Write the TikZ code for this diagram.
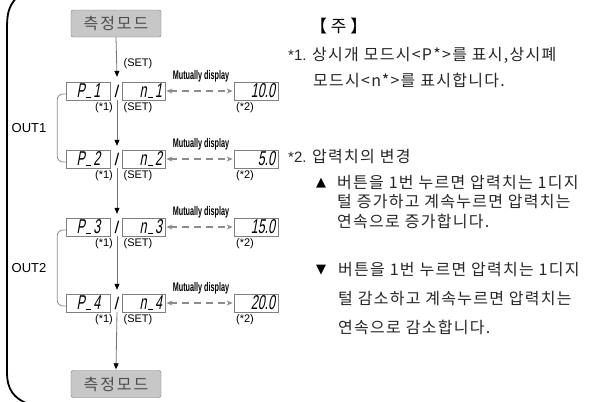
\documentclass[tikz,border=0pt]{standalone}
\usepackage{fontspec}
\setmainfont{Liberation Sans}
\newfontfamily\kr[LetterSpace=8]{Noto Sans CJK KR}
\newfontfamily\krplain{Noto Sans CJK KR}
\newfontfamily\krbox[LetterSpace=12]{Noto Sans CJK KR}
\newfontfamily\segf[FakeSlant=0.18,FakeStretch=0.62]{Liberation Sans}
\newfontfamily\condf[FakeStretch=0.58]{Liberation Sans}
\newfontfamily\symf{DejaVu Sans}
\newcommand\segbar{\kern1pt\rule{5pt}{1.3pt}\kern2.5pt}
\usetikzlibrary{arrows.meta,calc}
\begin{document}
\begin{tikzpicture}[x=1pt,y=-1pt,
  modebox/.style={draw=black!55, fill=black!22, rounded corners=2pt, minimum width=90pt, minimum height=27pt, inner sep=0pt, font=\fontsize{16}{16}\krbox\color{black!70}},
  segbox/.style={draw=black!50, fill=white, line width=0.7pt, minimum height=18pt, inner ysep=0pt, inner xsep=3pt, text width=38pt, font=\fontsize{20}{20}\segf},
  pbox/.style={segbox, align=center},
  nbox/.style={segbox, text width=37pt, align=right},
  vbox/.style={segbox, align=right},
  slashnode/.style={minimum height=18pt, inner sep=0pt, font=\fontsize{17}{17}\selectfont},
  lbl/.style={font=\fontsize{11}{11}\selectfont, inner sep=0pt},
  mdlbl/.style={font=\fontsize{12.5}{12.5}\condf\bfseries, inner sep=0pt},
  outlbl/.style={font=\fontsize{13}{13}\selectfont, inner sep=0pt},
  flow/.style={draw=black!55, line width=0.8pt, -{Triangle[width=5pt,length=6pt,color=black]}},
  mutual/.style={draw=black!45, line width=1.3pt, dash pattern=on 7pt off 5pt, {Stealth[length=6pt,width=5pt]}-{Stealth[length=6pt,width=5pt]}, shorten <=1pt, shorten >=1pt},
  brk/.style={draw=black!45, line width=0.8pt, rounded corners=6pt},
  note/.style={anchor=west, inner sep=0pt, font=\fontsize{16}{16}\kr\color{black!85}},
  notenum/.style={anchor=west, inner sep=0pt, font=\fontsize{15}{15}\selectfont\color{black!85}},
]
\useasboundingbox (0,0) rectangle (614,402);

% left frame
\draw[line width=1.8pt] (16,-2) .. controls (8,8) and (7,14) .. (7,30) -- (7,372) .. controls (7,390) and (14,398) .. (28,404);

\node[modebox] (top) at (116,23.5) {측정모드};
\node[modebox] (bot) at (116,384) {측정모드};
\node[lbl] (set0) at (138,64) {(SET)};

\foreach \i/\y/\v in {1/91/10.0, 2/159/5.0, 3/227/15.0, 4/303/20.0}{
  \node[pbox] (p\i) at (88.5,\y) {P\segbar\i};
  \node[slashnode] (s\i) at (117,\y) {/};
  \node[nbox] (n\i) at (143.5,\y) {n\segbar\i};
  \node[vbox] (v\i) at (256,\y) {\v};
  \draw[mutual] (n\i.east) -- (v\i.west);
  \node[mdlbl] (m\i) at (201,\y-15) {Mutually display};
  \node[lbl] (a\i) at (104,\y+17) {(*1)};
  \node[lbl] (b\i) at (138,\y+17) {(SET)};
  \node[lbl] (c\i) at (245,\y+17) {(*2)};
}

\draw[flow] (top.south) -- ([yshift=5pt]s1.north);
\draw[flow] (s1.south) -- ([yshift=4pt]s2.north);
\draw[flow] (s2.south) -- ([yshift=4pt]s3.north);
\draw[flow] (s3.south) -- ([yshift=4pt]s4.north);
\draw[flow] (s4.south) -- ([yshift=1pt]bot.north);

\draw[brk] ([yshift=-3pt]p1.west) -- ++(-9,0) |- ([yshift=-3pt]p2.west);
\draw[brk] ([yshift=-3pt]p3.west) -- ++(-9,0) |- ([yshift=-3pt]p4.west);
\node[outlbl] (o1) at (29,128) {OUT1};
\node[outlbl] (o2) at (29,268) {OUT2};

% notes
\node[anchor=west, inner sep=0pt, font=\fontsize{17}{17}\krplain] (hd) at (310,26) {【 주 】};
\node[notenum] (k1) at (288,55) {*1.};
\node[note] (t1a) at (312,55) {상시개 모드시<P*>를 표시,상시폐};
\node[note] (t1b) at (313,80) {모드시<n*>를 표시합니다.};
\node[notenum] (k2) at (288,157) {*2.};
\node[note] (t2) at (312,157) {압력치의 변경};
\node[anchor=west, inner sep=0pt, font=\fontsize{13}{13}\symf] (up) at (316,183) {▲};
\node[note] (u1) at (337,183) {버튼을 1번 누르면 압력치는 1디지};
\node[note] (u2) at (337,202) {털 증가하고 계속누르면 압력치는};
\node[note] (u3) at (337,221) {연속으로 증가합니다.};
\node[anchor=west, inner sep=0pt, font=\fontsize{13}{13}\symf] (dn) at (316,270) {▼};
\node[note] (d1) at (338,270) {버튼을 1번 누르면 압력치는 1디지};
\node[note] (d2) at (338,299) {털 감소하고 계속누르면 압력치는};
\node[note] (d3) at (338,327) {연속으로 감소합니다.};
\end{tikzpicture}
\end{document}
